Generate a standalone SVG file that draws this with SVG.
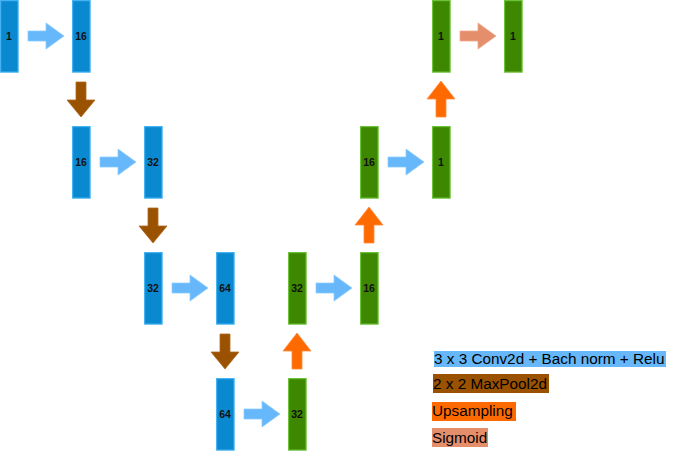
<svg xmlns="http://www.w3.org/2000/svg" width="676" height="451" viewBox="0 0 676 451">
<style>
.b rect{fill:#0a89d0;stroke:#45b2f2;stroke-width:1.2}
.g rect{fill:#3d8800;stroke:#6cc23a;stroke-width:1.2}
.n text{font-family:"Liberation Sans",Arial,sans-serif;font-size:10.5px;font-weight:bold;fill:#111;text-anchor:middle;dominant-baseline:central}
.conv{fill:#66b8fb;stroke:#8cccff;stroke-width:0.8}
.pool{fill:#9a5200;stroke:#b06a20;stroke-width:0.8}
.up{fill:#ff6a00;stroke:#ff8c40;stroke-width:0.8}
.sig{fill:#e58e6c;stroke:#f0aa8c;stroke-width:0.8}
.lg text{font-family:"Liberation Sans",Arial,sans-serif;font-size:15.3px;fill:#000}
</style>
<defs>
<path id="ah" d="M0,-5 H18 V-13 L36,0 L18,13 V5 H0 Z"/>
<path id="ad" d="M-5,0 H5 V18 H14 L0,35 L-14,18 H-5 Z"/>
<path id="au" d="M-5,36 H5 V18 H14 L0,0 L-14,18 H-5 Z"/>
</defs>
<rect width="676" height="451" fill="#fff"/>
<g id="connectors">
<use href="#ah" class="conv" x="28" y="36"/>
<use href="#ah" class="conv" x="100" y="162"/>
<use href="#ah" class="conv" x="172" y="288"/>
<use href="#ah" class="conv" x="316" y="288"/>
<use href="#ah" class="conv" x="244" y="414"/>
<use href="#ah" class="conv" x="388" y="162"/>
<use href="#ah" class="sig" x="460" y="36"/>
<use href="#ad" class="pool" x="81" y="82"/>
<use href="#ad" class="pool" x="153" y="208"/>
<use href="#ad" class="pool" x="225" y="334"/>
<use href="#au" class="up" x="297" y="333"/>
<use href="#au" class="up" x="369" y="207"/>
<use href="#au" class="up" x="441" y="81"/>
</g>
<g id="n1" class="n b"><rect x="0.6" y="0.6" width="17.5" height="71.5"/><text x="9" y="36">1</text></g>
<g id="n2" class="n b"><rect x="72.6" y="0.6" width="17.5" height="71.5"/><text x="81" y="36">16</text></g>
<g id="n3" class="n b"><rect x="72.6" y="126.6" width="17.5" height="71.5"/><text x="81" y="162">16</text></g>
<g id="n4" class="n b"><rect x="144.6" y="126.6" width="17.5" height="71.5"/><text x="153" y="162">32</text></g>
<g id="n5" class="n b"><rect x="144.6" y="252.6" width="17.5" height="71.5"/><text x="153" y="288">32</text></g>
<g id="n6" class="n b"><rect x="216.6" y="252.6" width="17.5" height="71.5"/><text x="225" y="288">64</text></g>
<g id="n7" class="n b"><rect x="216.6" y="378.6" width="17.5" height="71.5"/><text x="225" y="414">64</text></g>
<g id="n8" class="n g"><rect x="288.6" y="378.6" width="17.5" height="71.5"/><text x="297" y="414">32</text></g>
<g id="n9" class="n g"><rect x="288.6" y="252.6" width="17.5" height="71.5"/><text x="297" y="288">32</text></g>
<g id="n10" class="n g"><rect x="360.6" y="252.6" width="17.5" height="71.5"/><text x="369" y="288">16</text></g>
<g id="n11" class="n g"><rect x="360.6" y="126.6" width="17.5" height="71.5"/><text x="369" y="162">16</text></g>
<g id="n12" class="n g"><rect x="432.6" y="126.6" width="17.5" height="71.5"/><text x="441" y="162">1</text></g>
<g id="n13" class="n g"><rect x="432.6" y="0.6" width="17.5" height="71.5"/><text x="441" y="36">1</text></g>
<g id="n14" class="n g"><rect x="504.6" y="0.6" width="17.5" height="71.5"/><text x="513" y="36">1</text></g>
<g id="legend" class="lg">
<rect x="434" y="351" width="232" height="16" fill="#66b8fb"/>
<text x="434" y="364">3 x 3 Conv2d + Bach norm + Relu</text>
<rect x="433" y="374" width="116" height="19" fill="#9a5200"/>
<text x="433" y="389">2 x 2 MaxPool2d</text>
<rect x="432" y="402" width="84" height="19" fill="#ff6a00"/>
<text x="432" y="416">Upsampling</text>
<rect x="432" y="428" width="56" height="19" fill="#e58e6c"/>
<text x="432" y="443">Sigmoid</text>
</g>
</svg>
